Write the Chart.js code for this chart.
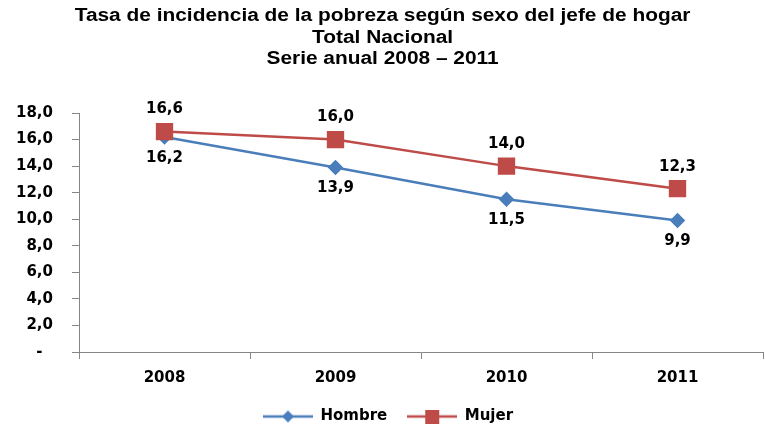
<!DOCTYPE html>
<html>
<head>
<meta charset="utf-8">
<script src="https://cdn.jsdelivr.net/npm/chart.js@4.4.0/dist/chart.umd.min.js"></script>
<style>
    html, body { margin: 0; padding: 0; background: #fff; overflow: hidden; }
    #wrap { position: relative; width: 765px; height: 427px; overflow: hidden; }
    #titulo {
        position: absolute; left: 0; top: 5px; width: 765px; z-index: 2;
        text-align: center; color: #000;
        font: bold 18px "Liberation Sans", Arial, sans-serif; line-height: 21.5px;
        transform: scaleX(1.16); transform-origin: 382px 0;
    }
    #lienzo { position: absolute; left: 0; top: 0; width: 776px; height: 434px; }
</style>
</head>
<body>
<div id="wrap">
    <div id="titulo">Tasa de incidencia de la pobreza según sexo del jefe de hogar<br>Total Nacional<br>Serie anual 2008 – 2011</div>
    <div id="lienzo"><canvas id="grafico"></canvas></div>
</div>
<script>
const anios = ['2008', '2009', '2010', '2011'];
const hombre = [16.2, 13.9, 11.5, 9.9];
const mujer = [16.6, 16.0, 14.0, 12.3];
const marcasY = [0, 2, 4, 6, 8, 10, 12, 14, 16, 18];

const AZUL = '#4A7EBB';
const ROJO = '#BE4B48';
const GRIS = '#868686';
const FUENTE = '"DejaVu Sans", Verdana, sans-serif';

// formato con coma decimal, como en el original
function formato(v) {
    return v.toFixed(1).replace('.', ',');
}

// icono de leyenda: linea con el marcador en el medio
function iconoLeyenda(color, forma) {
    const c = document.createElement('canvas');
    c.width = 50; c.height = 14;
    const g = c.getContext('2d');
    g.strokeStyle = color;
    g.lineWidth = 2.5;
    g.beginPath(); g.moveTo(0, 7); g.lineTo(50, 7); g.stroke();
    g.fillStyle = color;
    if (forma === 'rombo') {
        g.beginPath();
        g.moveTo(25, 1); g.lineTo(31, 7); g.lineTo(25, 13); g.lineTo(19, 7);
        g.closePath(); g.fill();
    } else {
        g.fillRect(18, 0, 14, 14);
    }
    return c;
}
const iconos = [iconoLeyenda(AZUL, 'rombo'), iconoLeyenda(ROJO, 'cuadro')];

const etiquetasDatos = {
    id: 'etiquetasDatos',
    afterDatasetsDraw(chart) {
        const ctx = chart.ctx;
        ctx.save();
        ctx.font = 'bold 15px ' + FUENTE;
        ctx.fillStyle = '#000';
        ctx.textAlign = 'center';
        ctx.textBaseline = 'middle';
        chart.data.datasets.forEach((ds, i) => {
            const meta = chart.getDatasetMeta(i);
            meta.data.forEach((pt, j) => {
                const dy = ds.etiquetaArriba ? -22 : 21;
                ctx.fillText(formato(ds.data[j]), pt.x, pt.y + dy);
            });
        });
        ctx.restore();
    }
};

new Chart(document.getElementById('grafico'), {
    type: 'line',
    data: {
        labels: anios,
        datasets: [
            {
                label: 'Hombre',
                data: hombre,
                borderColor: AZUL,
                backgroundColor: AZUL,
                borderWidth: 2.5,
                pointStyle: 'rectRot',
                pointRadius: 6,
                pointHoverRadius: 6,
                tension: 0,
                order: 1,
                etiquetaArriba: false
            },
            {
                label: 'Mujer',
                data: mujer,
                borderColor: ROJO,
                backgroundColor: ROJO,
                borderWidth: 2.5,
                pointStyle: 'rect',
                pointRadius: 10.5,
                pointHoverRadius: 10.5,
                tension: 0,
                order: 0,
                etiquetaArriba: true
            }
        ]
    },
    options: {
        responsive: true,
        maintainAspectRatio: false,
        animation: false,
        layout: { padding: { top: 113, left: 0, right: 0, bottom: 0 } },
        plugins: {
            title: { display: false },
            tooltip: { enabled: false },
            legend: {
                position: 'bottom',
                labels: {
                    usePointStyle: true,
                    pointStyleWidth: 50,
                    padding: 20,
                    color: '#000',
                    font: { family: FUENTE, size: 15, weight: 'bold' },
                    sort: (a, b) => a.datasetIndex - b.datasetIndex,
                    generateLabels(chart) {
                        const items = Chart.defaults.plugins.legend.labels.generateLabels(chart);
                        items.forEach(it => { it.pointStyle = iconos[it.datasetIndex]; });
                        return items;
                    }
                }
            }
        },
        scales: {
            x: {
                offset: true,
                afterFit: s => { s.height = 37; },
                grid: {
                    offset: true,
                    drawOnChartArea: false,
                    drawTicks: true,
                    tickLength: 7,
                    tickColor: GRIS
                },
                border: { color: GRIS, width: 1 },
                ticks: {
                    color: '#000',
                    padding: 10,
                    font: { family: FUENTE, size: 15, weight: 'bold' }
                }
            },
            y: {
                min: 0,
                max: 18,
                afterBuildTicks: s => { s.ticks = marcasY.map(v => ({ value: v })); },
                afterFit: s => { s.width = 79; },
                grid: {
                    drawOnChartArea: false,
                    drawTicks: true,
                    tickLength: 7,
                    tickColor: GRIS
                },
                border: { color: GRIS, width: 1 },
                ticks: {
                    color: '#000',
                    padding: 19,
                    font: { family: FUENTE, size: 15, weight: 'bold' },
                    callback: v => v === 0 ? '-  ' : formato(v)
                }
            }
        }
    },
    plugins: [etiquetasDatos]
});
</script>
</body>
</html>
